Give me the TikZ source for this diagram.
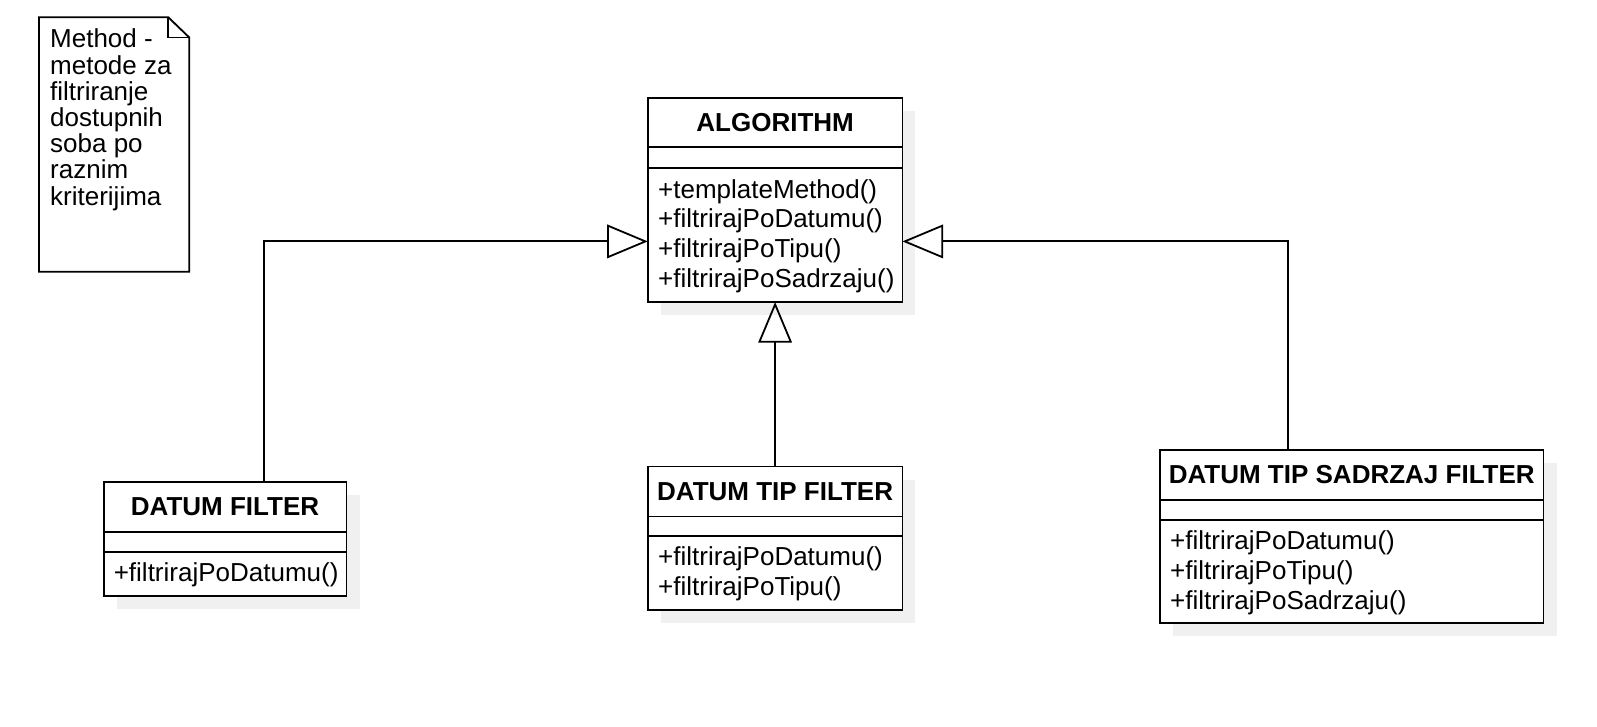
\documentclass[tikz,border=0pt]{standalone}
\usepackage{fontspec}
\setmainfont{Liberation Sans}
\usetikzlibrary{arrows.meta,calc}
\definecolor{shadowgray}{RGB}{240,240,240}
\tikzset{
  lw/.style={line width=1.8pt},
  classbox/.style={draw, line width=1.8pt, fill=white, rectangle, inner sep=0pt, outer sep=0pt},
  shadowbox/.style={fill=shadowgray, draw=none},
  classtitle/.style={font=\fontsize{26}{30}\selectfont\bfseries, inner sep=0pt},
  members/.style={font=\fontsize{26}{29.8}\selectfont, align=left, anchor=north west, inner sep=0pt},
  notetext/.style={font=\fontsize{26}{26.2}\selectfont, align=left, anchor=north west, inner sep=0pt},
  inh/.style={line width=1.9pt, -{Triangle[open,length=40.7pt,width=33.6pt,line width=1.8pt]}},
}
\begin{document}
\begin{tikzpicture}[x=1pt,y=-1pt]
\useasboundingbox[fill=white] (0,0) rectangle (1597,726);

% Note
\draw[lw, fill=white, line join=miter] (39,17.3) -- (168.3,17.3) -- (189.3,37.5) -- (189.3,271.7) -- (39,271.7) -- cycle;
\draw[lw, line join=miter] (168.3,17.3) -- (168.3,37.5) -- (189.3,37.5);
\node[notetext] (note) at (50,28.8) {Method -\\metode za\\filtriranje\\dostupnih\\soba po\\raznim\\kriterijima};

% ALGORITHM
\fill[shadowgray] (660.8,110.8) rectangle (915.4,315);
\node[classbox, minimum width=254.6pt, minimum height=204.2pt] (alg) at (775.1,199.9) {};
\draw[lw] (647.8,147.3) -- (902.4,147.3);
\draw[lw] (647.8,168.3) -- (902.4,168.3);
\node[classtitle] (algT) at (775.1,122.55) {ALGORITHM};
\node[members] (algM) at (658,179) {+templateMethod()\\+filtrirajPoDatumu()\\+filtrirajPoTipu()\\+filtrirajPoSadrzaju()};

% DATUM FILTER
\fill[shadowgray] (116.6,495) rectangle (359.5,609);
\node[classbox, minimum width=242.9pt, minimum height=114pt] (df) at (225.05,539) {};
\draw[lw] (103.6,531.7) -- (346.5,531.7);
\draw[lw] (103.6,551.7) -- (346.5,551.7);
\node[classtitle] (dfT) at (225.05,506.85) {DATUM FILTER};
\node[members] (dfM) at (113.6,562.2) {+filtrirajPoDatumu()};

% DATUM TIP FILTER
\fill[shadowgray] (660.8,479.5) rectangle (915.4,623);
\node[classbox, minimum width=254.6pt, minimum height=143.5pt] (dt) at (775.1,538.25) {};
\draw[lw] (647.8,516.4) -- (902.4,516.4);
\draw[lw] (647.8,535.7) -- (902.4,535.7);
\node[classtitle] (dtT) at (775.1,491.45) {DATUM TIP FILTER};
\node[members] (dtM) at (658,546.2) {+filtrirajPoDatumu()\\+filtrirajPoTipu()};

% DATUM TIP SADRZAJ FILTER
\fill[shadowgray] (1173,463) rectangle (1556.5,636.3);
\node[classbox, minimum width=383.5pt, minimum height=173.3pt] (dts) at (1351.75,536.65) {};
\draw[lw] (1160,500) -- (1543.5,500);
\draw[lw] (1160,520) -- (1543.5,520);
\node[classtitle] (dtsT) at (1351.75,475) {DATUM TIP SADRZAJ FILTER};
\node[members] (dtsM) at (1170,530.5) {+filtrirajPoDatumu()\\+filtrirajPoTipu()\\+filtrirajPoSadrzaju()};

% connectors
\coordinate (c1) at (263.8,241.4);
\coordinate (c2) at (1288.4,241.4);
\draw[inh] (df.north -| c1) |- (alg.west |- c1);
\draw[inh] (dt.north) -- (alg.south);
\draw[inh] (dts.north -| c2) |- (alg.east |- c2);
\end{tikzpicture}
\end{document}
